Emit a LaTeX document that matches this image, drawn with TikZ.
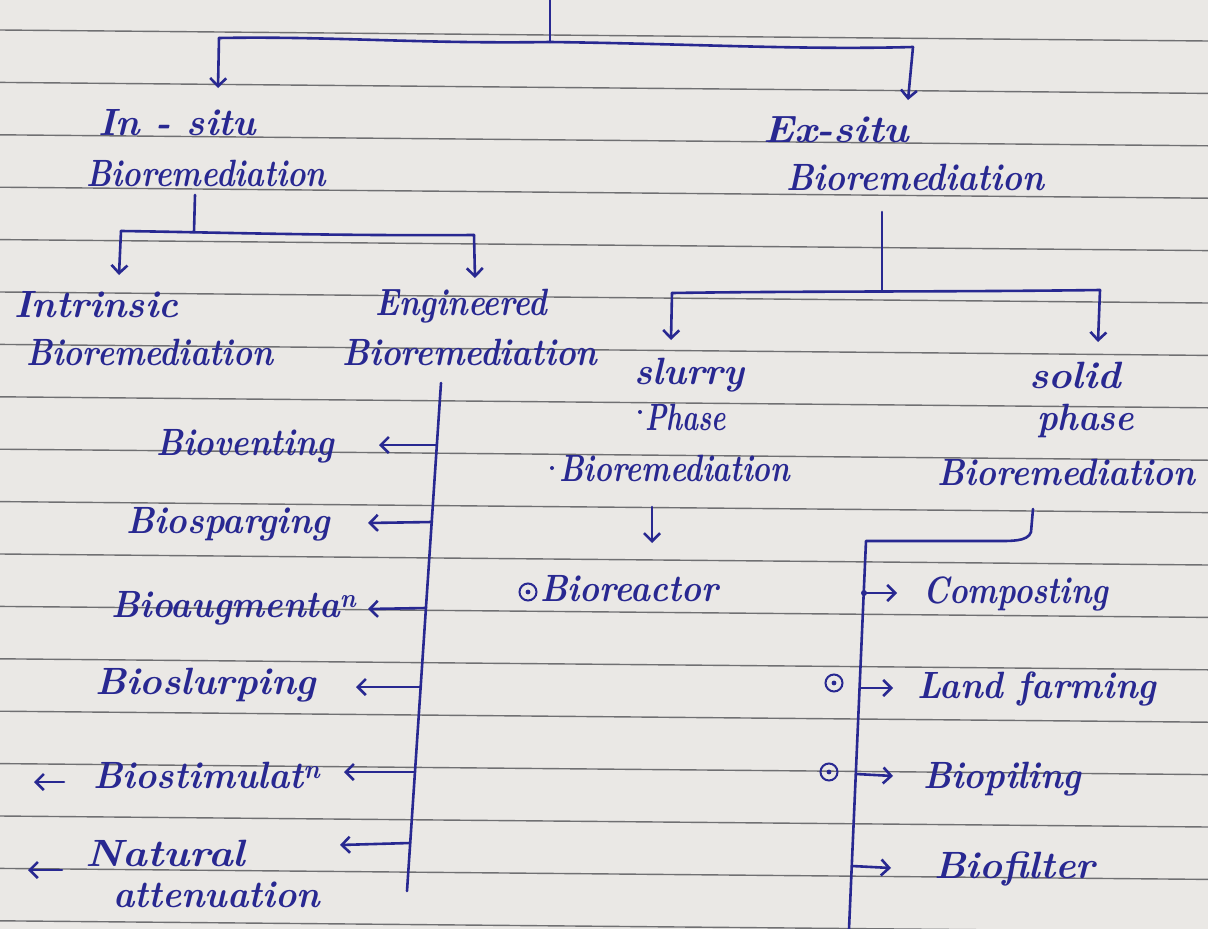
\documentclass[tikz,border=0pt]{standalone}
\usepackage{fontspec}
\usetikzlibrary{arrows.meta,calc}
\definecolor{paper}{RGB}{234,232,229}
\definecolor{rulecol}{RGB}{112,112,114}
\definecolor{ink}{RGB}{40,40,145}
\newcommand{\hw}[2]{\resizebox{#1pt}{\height}{\fontsize{38}{44}\selectfont\bfseries\itshape #2}}
\begin{document}
\begin{tikzpicture}[x=1pt,y=-1pt,
  pen/.style={draw=ink, line width=2.6pt, line cap=round, line join=round},
  arr/.style={pen, -{Straight Barb[length=8pt,width=16pt]}},
  lbl/.style={anchor=base west, inner sep=0pt, text=ink},
  ruled/.style={draw=rulecol, line width=1.4pt},
  odot/.style={circle, draw=ink, line width=2pt, minimum size=17pt, inner sep=0pt}]
\fill[paper] (0,0) rectangle (1208,929);
\useasboundingbox (0,0) rectangle (1208,929);
\foreach \k in {0,...,17} \draw[ruled] (0,{30+52.4*\k}) -- (1208,{41+52.4*\k});

% ---------- labels ----------
\node[lbl] (insituA) at (98,135) {\hw{158}{In - situ}};
\node[lbl] (insituB) at (86,186) {\hw{240}{Bioremediation}};
\node[lbl] (exsituA) at (763,142) {\hw{146}{Ex-situ}};
\node[lbl] (exsituB) at (786,190) {\hw{258}{Bioremediation}};
\node[lbl] (intrA) at (14,317) {\hw{164}{Intrinsic}};
\node[lbl] (intrB) at (26,365) {\hw{247}{Bioremediation}};
\node[lbl] (engA) at (375,315) {\hw{172}{Engineered}};
\node[lbl] (engB) at (342,365) {\hw{255}{Bioremediation}};
\node[lbl] (bvent) at (156,455) {\hw{178}{Bioventing}};
\node[lbl] (bspar) at (126,533) {\hw{204}{Biosparging}};
\node[lbl] (baug) at (111,617) {\hw{245}{Bioaugmenta\textsuperscript{n}}};
\node[lbl] (bslur) at (95,694) {\hw{221}{Bioslurping}};
\node[lbl] (bstim) at (93,788) {\hw{227}{Biostimulat\textsuperscript{n}}};
\node[lbl] (natA) at (85,866) {\hw{160}{Natural}};
\node[lbl] (natB) at (113,907) {\hw{207}{attenuation}};
\node[lbl] (slurA) at (634,384) {\hw{110}{slurry}};
\node[lbl] (slurB) at (645,430) {\hw{81}{Phase}};
\node[lbl] (slurC) at (559,481) {\hw{231}{Bioremediation}};
\node[lbl] (breact) at (540,601) {\hw{178}{Bioreactor}};
\node[lbl] (solA) at (1029,388) {\hw{92}{solid}};
\node[lbl] (solB) at (1037,430) {\hw{97}{phase}};
\node[lbl] (solC) at (937,485) {\hw{258}{Bioremediation}};
\node[lbl] (comp) at (923,603) {\hw{185}{Composting}};
\node[lbl] (land) at (917,698) {\hw{239}{Land farming}};
\node[lbl] (bpil) at (923,788) {\hw{158}{Biopiling}};
\node[lbl] (bfil) at (934,878) {\hw{161}{Biofilter}};

% small ink dots
\fill[ink] (640,412) circle (2pt);
\fill[ink] (552,468) circle (2pt);

% circled dots
\node[odot] (cR) at (528,592) {};
\node[odot] (cL) at (834,683) {};
\node[odot] (cP) at (829,772) {};
\foreach \c in {cR,cL,cP} \fill[ink] (\c) circle (2.4pt);

% ---------- coordinates ----------
\coordinate (t0) at (550,0);
\coordinate (j0) at (550,42);
\coordinate (jl) at (219,38);
\coordinate (jr) at (913,47);
\coordinate (al) at (218,88);
\coordinate (ar) at (908,100);

\coordinate (is0) at (195,195);
\coordinate (is1) at (194,232);
\coordinate (isl) at (121,231);
\coordinate (isr) at (474,235);
\coordinate (isla) at (119,275);
\coordinate (isra) at (475,278);

\coordinate (es0) at (882,212);
\coordinate (es1) at (882,291);
\coordinate (esl) at (672,293);
\coordinate (esr) at (1100,290);
\coordinate (esla) at (671,340);
\coordinate (esra) at (1098,342);

\coordinate (eTop) at (441,383);
\coordinate (eBot) at (407,891);
\coordinate (e1) at (437,445);   \coordinate (e1a) at (379,445);
\coordinate (e2) at (432,522);   \coordinate (e2a) at (368,523);
\coordinate (e3) at (426,608);   \coordinate (e3a) at (368,609);
\coordinate (e4) at (421,687);   \coordinate (e4a) at (356,687);
\coordinate (e5) at (415,772);   \coordinate (e5a) at (344,772);
\coordinate (e6) at (410,843);   \coordinate (e6a) at (340,845);
\coordinate (bst0) at (64,782);  \coordinate (bst1) at (34,782);
\coordinate (nat0) at (62,870);  \coordinate (nat1) at (28,870);

\coordinate (sl0) at (652,507);  \coordinate (sl1) at (652,543);

\coordinate (sp0) at (1033,509);
\coordinate (sp1) at (866,541);
\coordinate (spB) at (849,929);
\coordinate (s1) at (864,593);   \coordinate (s1a) at (897,593);
\coordinate (s2) at (860,688);   \coordinate (s2a) at (893,688);
\coordinate (s3) at (856,774);   \coordinate (s3a) at (893,776);
\coordinate (s4) at (852,866);   \coordinate (s4a) at (891,868);

% ---------- connectors ----------
\draw[pen] (t0) -- (j0);
\draw[pen] (jl) .. controls (330,36) and (420,44) .. (j0) .. controls (700,44) and (800,50) .. (jr);
\draw[arr] (jl) -- (al);
\draw[arr] (jr) -- (ar);

\draw[pen] (is0) -- (is1);
\draw[pen] (isl) .. controls (200,232) and (330,236) .. (isr);
\draw[arr] (isl) -- (isla);
\draw[arr] (isr) -- (isra);

\draw[pen] (es0) -- (es1);
\draw[pen] (esl) .. controls (800,291) and (950,292) .. (esr);
\draw[arr] (esl) -- (esla);
\draw[arr] (esr) -- (esra);

\draw[pen] (eTop) -- (eBot);
\foreach \a/\b in {e1/e1a,e2/e2a,e3/e3a,e4/e4a,e5/e5a,e6/e6a} \draw[arr] (\a) -- (\b);
\draw[arr] (bst0) -- (bst1);
\draw[arr] (nat0) -- (nat1);

\draw[arr] (sl0) -- (sl1);

\draw[pen] (sp0) -- (1031,532) .. controls (1028,542) and (1010,541) .. (990,541) -- (sp1) -- (spB);
\fill[ink] (s1) circle (3pt);
\foreach \a/\b in {s1/s1a,s2/s2a,s3/s3a,s4/s4a} \draw[arr] (\a) -- (\b);
\end{tikzpicture}
\end{document}
